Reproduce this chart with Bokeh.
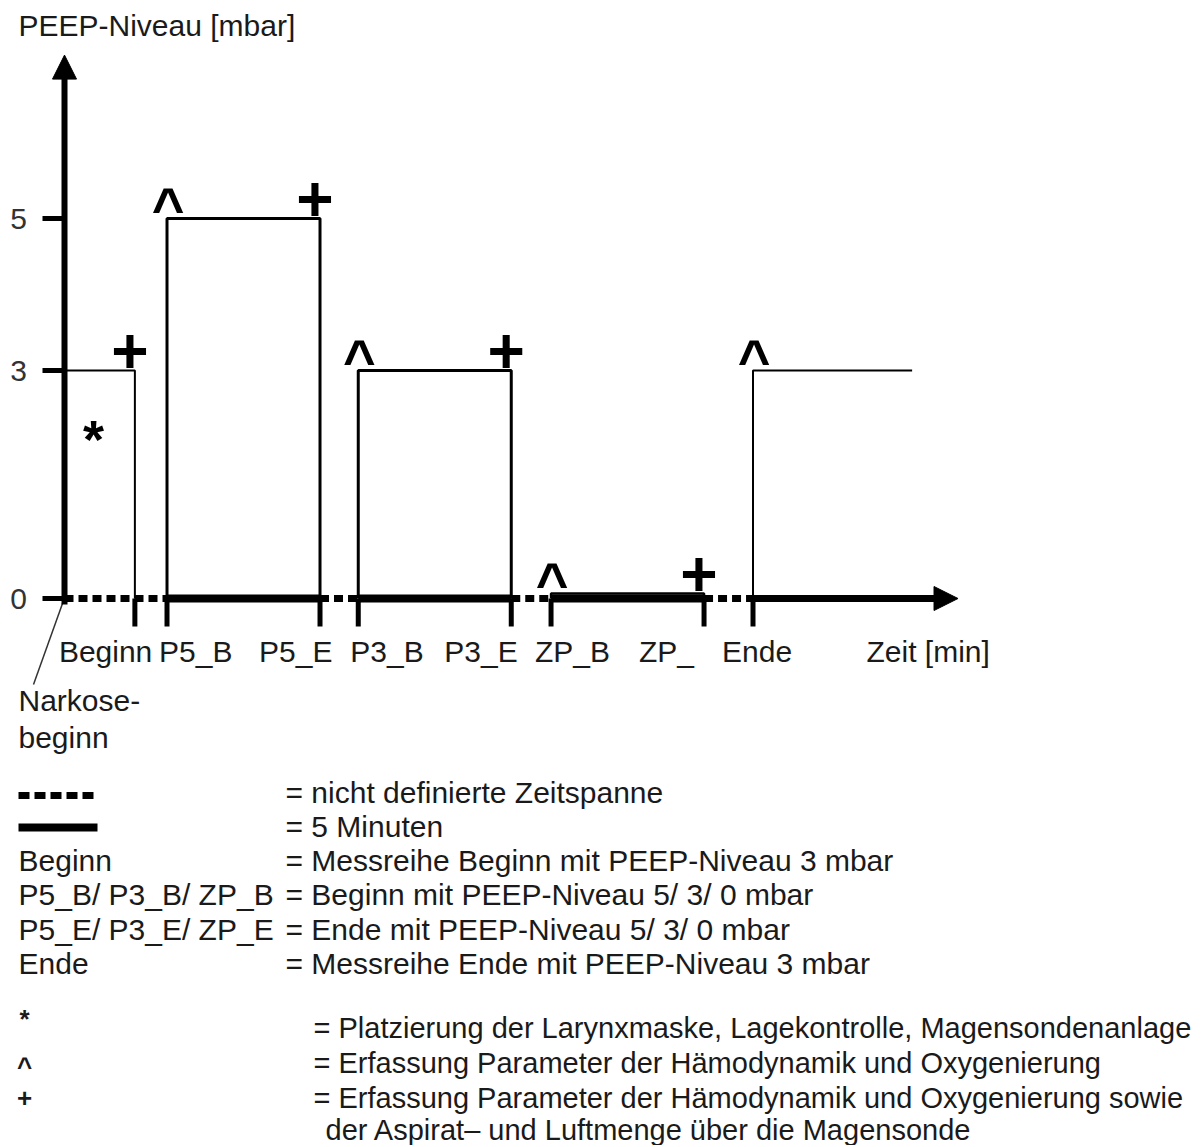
from bokeh.plotting import figure
from bokeh.models import Range1d, Arrow, NormalHead, ColumnDataSource
from bokeh.core.properties import value
from bokeh.embed import file_html
from bokeh.resources import INLINE

# ---------------- data (schematic time in minutes, PEEP in mbar) ----------------
event_names = ["Beginn", "P5_B", "P5_E", "P3_B", "P3_E", "ZP_B", "ZP_E", "Ende"]
event_labels = ["Beginn", "P5_B", "P5_E", "P3_B", "P3_E", "ZP_B", "ZP_", "Ende"]
event_times = [2.3, 3.35, 8.35, 9.6, 14.6, 15.9, 20.9, 22.5]
phase_names = ["Beginn", "P5", "P3", "ZP", "Ende"]
phase_peep = [3, 5, 3, 0, 3]
ende_line_end = 27.7
time_axis_end = 29.2
y_tick_values = [0, 3, 5]
y_tick_labels = ["0", "3", "5"]
y_axis_top = 7.15

legend_left = ["", "", "Beginn", "P5_B/ P3_B/ ZP_B", "P5_E/ P3_E/ ZP_E", "Ende"]
legend_right = ["= nicht definierte Zeitspanne", "= 5 Minuten",
                "= Messreihe Beginn mit PEEP-Niveau 3 mbar",
                "= Beginn mit PEEP-Niveau 5/ 3/ 0 mbar",
                "= Ende mit PEEP-Niveau 5/ 3/ 0 mbar",
                "= Messreihe Ende mit PEEP-Niveau 3 mbar"]
symbol_keys = ["*", "^", "+"]
symbol_texts = ["= Platzierung der Larynxmaske, Lagekontrolle, Magensondenanlage",
                "= Erfassung Parameter der Hämodynamik und Oxygenierung",
                "= Erfassung Parameter der Hämodynamik und Oxygenierung sowie"]
symbol_cont = "der Aspirat\u2013 und Luftmenge über die Magensonde"

t = dict(zip(event_names, event_times))
phase_start = [0.0, t["P5_B"], t["P3_B"], t["ZP_B"], t["Ende"]]
phase_end = [t["Beginn"], t["P5_E"], t["P3_E"], t["ZP_E"], ende_line_end]
undef_start = [0.0, t["P5_E"], t["P3_E"], t["ZP_E"]]
undef_end = [t["P5_B"], t["P3_B"], t["ZP_B"], t["Ende"]]
five_start = [t["P5_B"], t["P3_B"], t["ZP_B"]]
five_end = [t["P5_E"], t["P3_E"], t["ZP_E"]]

# ---------------- layout ----------------
W, H = 1200, 1145
PX_MIN = 30.6
PX_MBAR = 76.0
OX, OY = 64, 598


def X(px):
    return (px - OX) / PX_MIN


def Y(py):
    return (OY - py) / PX_MBAR


FONT = value("Liberation Sans")
TXT = "#1a1a1a"

p = figure(width=W, height=H, x_range=Range1d(X(0), X(W)), y_range=Range1d(Y(H), Y(0)),
           output_backend="svg", toolbar_location=None, min_border=0,
           x_axis_type=None, y_axis_type=None)
p.grid.visible = False
p.outline_line_color = None
p.background_fill_color = "white"
p.border_fill_color = "white"

# time axis: undefined spans (dotted) and 5-minute spans (solid)
p.segment(x0=undef_start, y0=0, x1=undef_end, y1=0, line_width=7, line_dash="9 5", color="black")
p.segment(x0=five_start, y0=0, x1=five_end, y1=0, line_width=8, color="black")
p.add_layout(Arrow(x_start=t["Ende"], y_start=0, x_end=time_axis_end, y_end=0, line_width=7,
                   line_color="black",
                   end=NormalHead(size=24, fill_color="black", line_color="black", line_width=1)))
# event ticks below time axis
p.segment(x0=event_times, y0=0, x1=event_times, y1=Y(626), line_width=5, color="black")

# PEEP level profile per phase
eps = 5 / PX_MBAR
xs, ys, lws = [], [], []
for name, s, e, lvl in zip(phase_names, phase_start, phase_end, phase_peep):
    top = lvl if lvl > 0 else eps
    if name == "Beginn":
        xs.append([s, e, e]); ys.append([top, top, 0]); lws.append(2)
    elif name == "Ende":
        xs.append([s, s, e]); ys.append([0, top, top]); lws.append(2)
    else:
        xs.append([s, s, e, e]); ys.append([0, top, top, 0]); lws.append(3 if lvl > 0 else 2.5)
p.multi_line(xs=xs, ys=ys, line_width=lws, color="black")

# y axis
p.add_layout(Arrow(x_start=0, y_start=Y(604), x_end=0, y_end=y_axis_top, line_width=6,
                   line_color="black",
                   end=NormalHead(size=24, fill_color="black", line_color="black", line_width=1)))
p.segment(x0=X(42), y0=y_tick_values, x1=0, y1=y_tick_values, line_width=5, color="black")
p.text(x=X(18), y=y_tick_values, text=y_tick_labels, text_align="center", text_baseline="middle",
       text_font=FONT, text_font_size="30px", text_color="#333333")
p.text(x=[X(18)], y=[Y(25)], text=["PEEP-Niveau [mbar]"], text_baseline="middle",
       text_font=FONT, text_font_size="30px", text_color=TXT)

# time axis labels
label_dx = [-76, -8, -61, -8, -67, -16, -65, -31]
lsrc = ColumnDataSource(dict(x=event_times, y=[Y(651)] * len(event_times), text=event_labels, dx=label_dx))
p.text(x="x", y="y", text="text", x_offset="dx", source=lsrc, text_baseline="middle",
       text_font=FONT, text_font_size="30px", text_color=TXT)
p.text(x=[X(866)], y=[Y(651)], text=["Zeit [min]"], text_baseline="middle",
       text_font=FONT, text_font_size="30px", text_color=TXT)

# Narkosebeginn pointer
p.line([X(62), X(33)], [Y(603), Y(684)], line_width=1.5, color="#333333")
p.text(x=[X(18), X(18)], y=[Y(700), Y(737)], text=["Narkose-", "beginn"], text_baseline="middle",
       text_font=FONT, text_font_size="30px", text_color=TXT)

# measurement markers
up = 19 / PX_MBAR
caret_x = [phase_start[i] for i in range(1, 5)]
caret_y = [(phase_peep[i] if phase_peep[i] > 0 else eps) + up for i in range(1, 5)]
plus_x = [phase_end[i] for i in range(0, 4)]
plus_y = [(phase_peep[i] if phase_peep[i] > 0 else eps) + up for i in range(0, 4)]
p.text(x=caret_x, y=caret_y, text=["^"] * 4, x_offset=1, y_offset=8,
       text_align="center", text_baseline="alphabetic", text_font=FONT, text_font_style="bold",
       text_font_size="56px", text_color="black")
p.text(x=plus_x, y=plus_y, text=["+"] * 4, x_offset=-5, y_offset=-1,
       text_align="center", text_baseline="alphabetic", text_font=FONT, text_font_style="bold",
       text_font_size="64px", text_color="black")
p.text(x=[X(93)], y=[Y(432)], text=["*"], y_offset=6,
       text_align="center", text_baseline="alphabetic", text_font=FONT, text_font_style="bold",
       text_font_size="54px", text_color="black")

# legend
p.segment(x0=X(18), y0=Y(795), x1=X(94), y1=Y(795), line_width=7, line_dash="11 5", color="black")
p.segment(x0=X(18), y0=Y(827), x1=X(97), y1=Y(827), line_width=8, color="black")
rows_y = [Y(v) for v in (792, 826, 860, 894, 929, 963)]
p.text(x=X(18), y=rows_y, text=legend_left, text_baseline="middle",
       text_font=FONT, text_font_size="30px", text_color=TXT)
p.text(x=X(285), y=rows_y, text=legend_right, text_baseline="middle",
       text_font=FONT, text_font_size="30px", text_color=TXT)
p.text(x=X(24), y=[Y(v) for v in (1018, 1066, 1097)], text=symbol_keys, text_align="center",
       text_baseline="middle", text_font=FONT, text_font_style="bold", text_font_size="26px",
       text_color=TXT)
p.text(x=X(313), y=[Y(v) for v in (1027, 1062, 1097)], text=symbol_texts, text_baseline="middle",
       text_font=FONT, text_font_size="29px", text_color=TXT)
p.text(x=[X(325)], y=[Y(1129)], text=[symbol_cont], text_baseline="middle",
       text_font=FONT, text_font_size="29px", text_color=TXT)

open("out.html", "w").write(file_html(p, INLINE))
